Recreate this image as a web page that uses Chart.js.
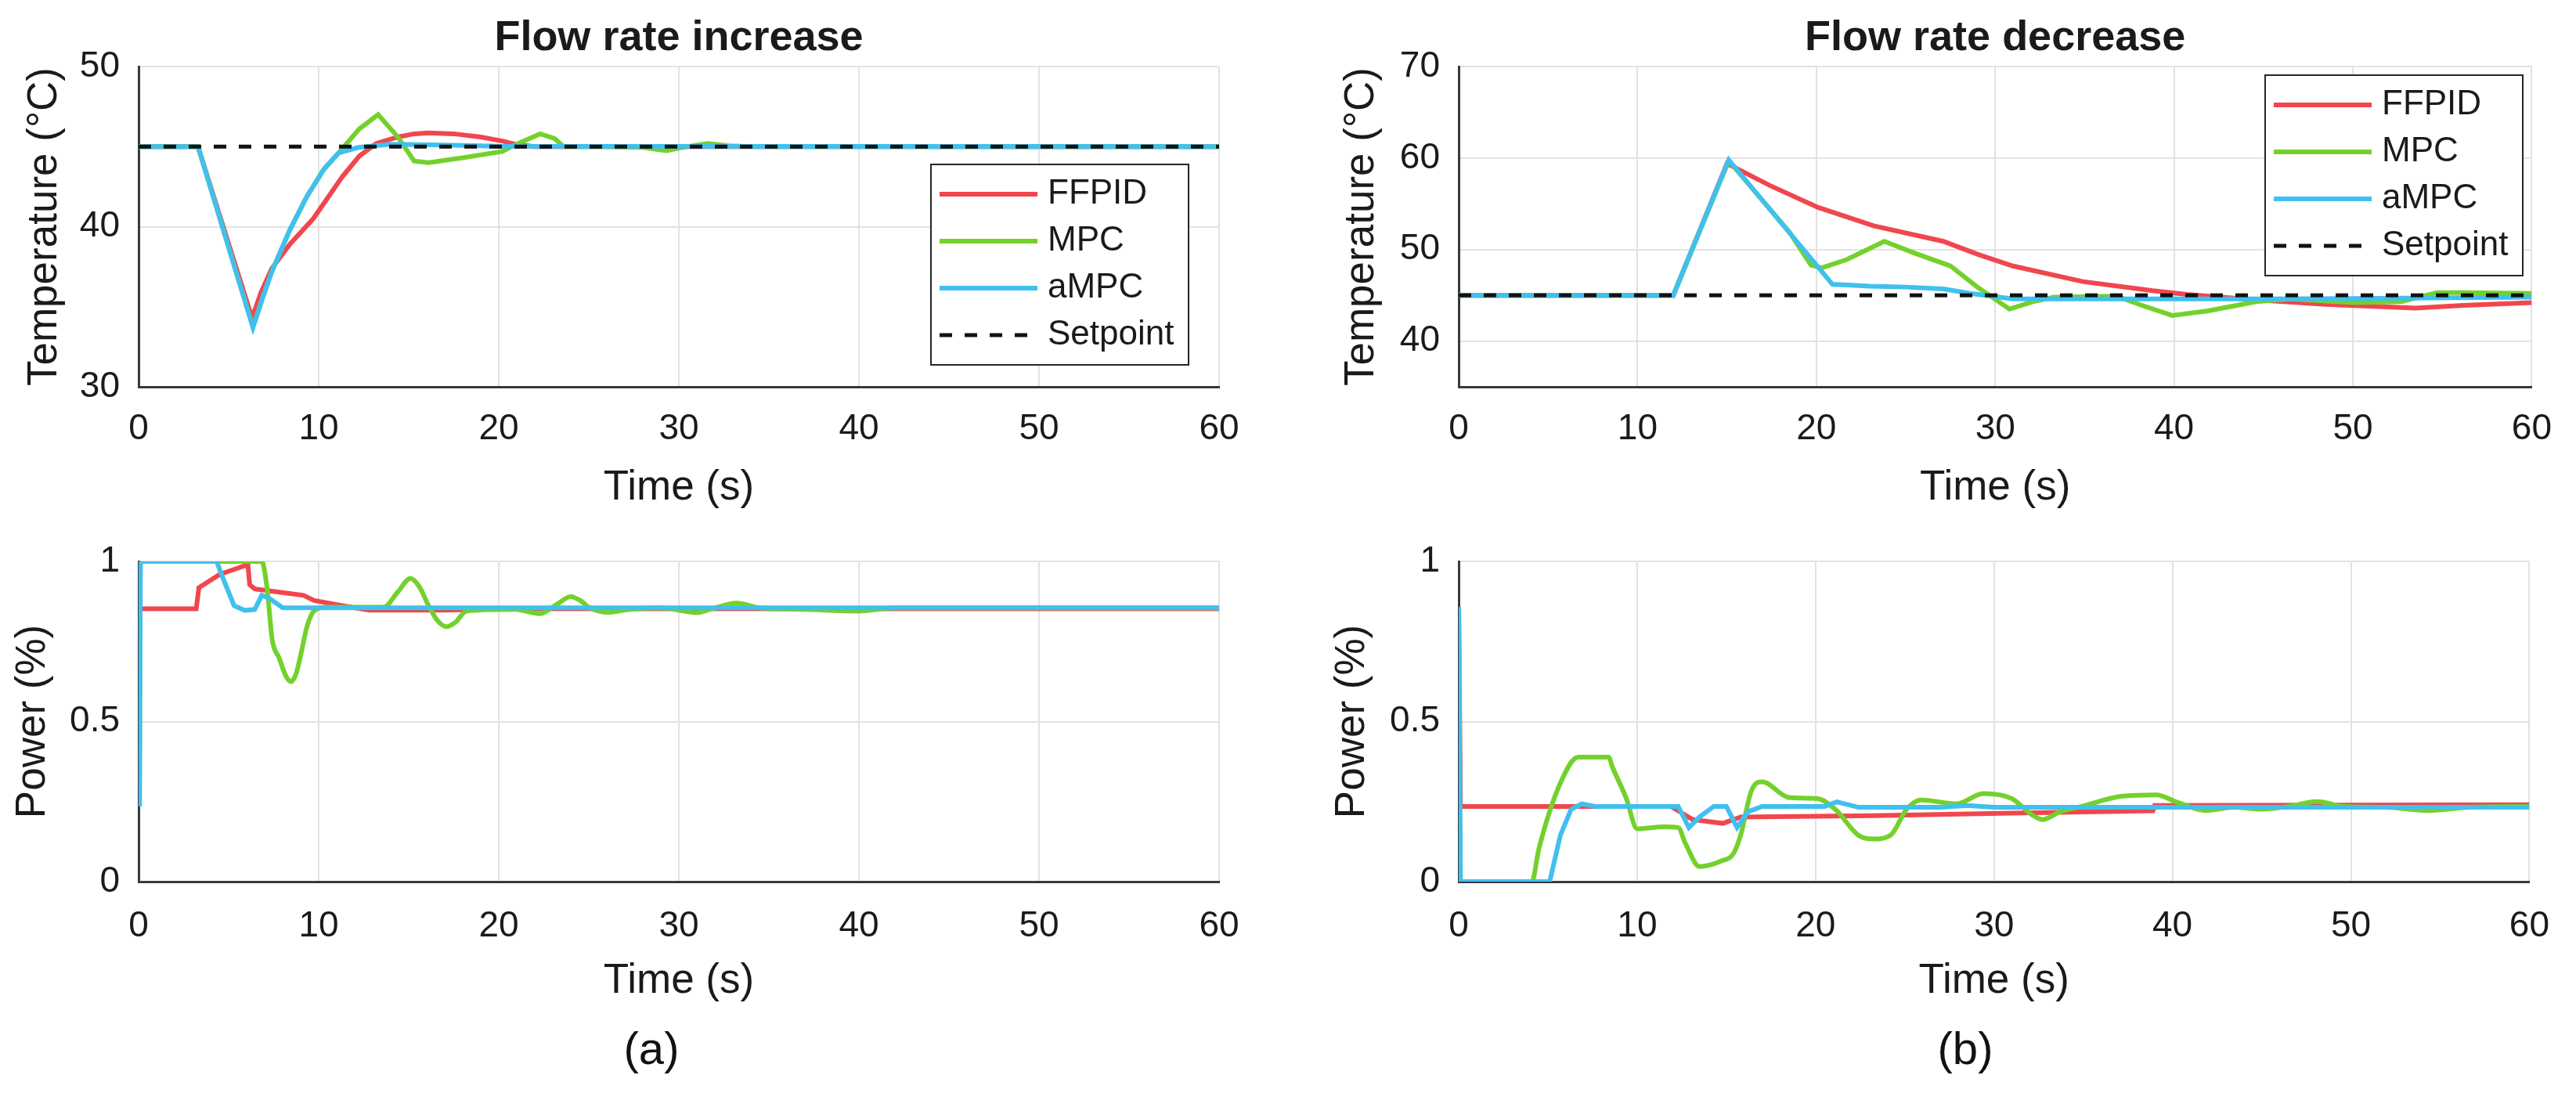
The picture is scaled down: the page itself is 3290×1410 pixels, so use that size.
<!DOCTYPE html>
<html>
<head>
<meta charset="utf-8">
<script src="https://cdn.jsdelivr.net/npm/chart.js@4.4.1/dist/chart.umd.min.js"></script>
<style>
  html, body { margin: 0; padding: 0; background: #fff; }
  #fig { position: relative; width: 3290px; height: 1410px; overflow: hidden; background: #fff; }
  #fig canvas { position: absolute; }
  .tag { position: absolute; font-family: 'Liberation Sans', Arial, sans-serif; font-size: 58px; color: #111; transform: translate(-50%, -50%); }
</style>
</head>
<body>
<div id="fig">
  <canvas id="incTemp" width="1645" height="660" style="left:0px;top:0px"></canvas>
  <canvas id="decTemp" width="1645" height="660" style="left:1645px;top:0px"></canvas>
  <canvas id="incPower" width="1645" height="640" style="left:0px;top:660px"></canvas>
  <canvas id="decPower" width="1645" height="640" style="left:1645px;top:660px"></canvas>
  <div class="tag" style="left:832px;top:1338px">(a)</div>
  <div class="tag" style="left:2510px;top:1338px">(b)</div>
</div>
<script>
// ---- data: [time (s), value] ----
const timeTicks = [0, 10, 20, 30, 40, 50, 60];
const timeRange = [0, 60];
const incTempTicks = [30, 40, 50];
const incTempRange = [30, 50];
const decTempTicks = [40, 50, 60, 70];
const decTempRange = [35, 70];
const powerTicks = [0, 0.5, 1];
const powerRange = [0, 1];
const setpointValue = 45;

// flow rate increase, temperature
const incTempFFPID = [[0,45],[3.3,45],[6.3,34.3],[6.8,35.9],[7.4,37.4],[8.4,38.9],[9.7,40.5],[10.5,41.8],[11.3,43.1],[12.25,44.4],[13.2,45.2],[14.4,45.6],[15.3,45.8],[16.1,45.85],[17.5,45.8],[19,45.6],[20.2,45.35],[20.9,45.15],[22,45.0],[60,45]];
const incTempMPC = [[0,45],[3.3,45],[6.35,33.75],[6.9,35.6],[7.4,37.2],[8.4,39.8],[9.35,41.9],[10.3,43.6],[11.1,44.6],[12.25,46.1],[13.3,47.0],[14.4,45.6],[15.3,44.1],[16.1,44.0],[18,44.3],[20.2,44.7],[20.7,45.0],[21.5,45.4],[22.3,45.8],[23.1,45.5],[23.6,45.0],[26,45.0],[28,44.95],[29.3,44.75],[30.2,44.95],[31.6,45.2],[32.8,45.05],[34,45.0],[60,45]];
const incTempAMPC = [[0,45],[3.3,45],[6.35,33.7],[6.9,35.6],[7.4,37.2],[8.4,39.8],[9.35,41.9],[10.3,43.6],[11.1,44.6],[12.2,44.95],[14,45.15],[17,45.1],[20,45.02],[60,45]];

// flow rate decrease, temperature
const decTempFFPID = [[0,45],[12,45],[15.0,59.4],[17.4,57.0],[20.1,54.6],[23.2,52.6],[27.1,50.9],[29,49.5],[31,48.2],[34.9,46.5],[38.8,45.5],[40.7,45.1],[44.6,44.5],[48.5,44.0],[53.5,43.6],[56.2,43.9],[60,44.2]];
const decTempMPC = [[0,45],[12,45],[15.1,59.7],[18.5,51.9],[19.7,48.3],[20.3,48.0],[21.7,48.9],[23.8,50.9],[25.5,49.6],[27.5,48.2],[29,45.9],[30.8,43.5],[32.1,44.3],[33.3,44.8],[36.8,44.9],[38.2,43.9],[39.9,42.8],[41.9,43.3],[44.6,44.3],[46.5,44.6],[50,44.2],[52.7,44.3],[54.7,45.3],[56.2,45.3],[60,45.2]];
const decTempAMPC = [[0,45],[12,45],[15.1,59.8],[20.9,46.2],[23,46.0],[25,45.9],[27.1,45.7],[28.6,45.2],[31,44.6],[35,44.6],[45,44.6],[50,44.65],[60,44.8]];

// flow rate increase, power
const incPowerFFPID = [[0,0.243],[0.05,0.852],[3.2,0.852],[3.35,0.918],[4.5,0.959],[5.3,0.975],[6.07,0.99],[6.17,0.927],[6.45,0.914],[7.8,0.904],[9.16,0.894],[9.74,0.878],[11.3,0.862],[12.8,0.848],[17.1,0.848],[20,0.852],[60,0.852]];
const incPowerMPC = [[0.05,0.24],[0.1,1.0],[6.84,1.0],[7.13,0.918],[7.42,0.756],[7.8,0.699],[8.2,0.64],[8.48,0.625],[8.75,0.65],[8.97,0.699],[9.35,0.796],[9.74,0.845],[10.5,0.857],[13.6,0.857],[14.4,0.905],[15.1,0.947],[15.6,0.92],[16.1,0.862],[16.6,0.815],[17.1,0.796],[17.6,0.81],[18.2,0.845],[20.9,0.85],[22.3,0.837],[23.2,0.865],[24,0.89],[24.6,0.875],[25,0.857],[26.1,0.841],[27.1,0.849],[29,0.855],[31,0.84],[32,0.855],[33.2,0.87],[34.5,0.855],[37,0.85],[40,0.845],[42,0.855],[60,0.855]];
const incPowerAMPC = [[0.05,0.235],[0.1,1.0],[4.33,1.0],[4.72,0.943],[5.3,0.862],[5.9,0.847],[6.45,0.85],[6.84,0.894],[7.23,0.886],[8.0,0.855],[60,0.855]];

// flow rate decrease, power
const decPowerFFPID = [[0,0.857],[0.1,0.235],[11.9,0.235],[13.1,0.194],[14.8,0.182],[15.8,0.202],[23.2,0.206],[31,0.214],[38.9,0.221],[39,0.238],[60,0.24]];
const decPowerMPC = [[0,0.857],[0.1,0],[4.1,0],[4.5,0.104],[5.7,0.308],[6.7,0.389],[8.4,0.389],[8.6,0.36],[9.4,0.259],[10.0,0.165],[11.5,0.171],[12.3,0.169],[12.7,0.12],[13.5,0.047],[14.7,0.064],[15.4,0.088],[15.8,0.145],[16.4,0.283],[17.0,0.312],[18.5,0.263],[20.1,0.259],[21.1,0.226],[22.4,0.145],[23.2,0.133],[24.2,0.145],[25.1,0.226],[25.9,0.255],[27.9,0.243],[29.4,0.275],[31,0.259],[32.1,0.21],[32.7,0.194],[33.7,0.218],[34.9,0.235],[37.2,0.267],[39.1,0.271],[40.3,0.247],[41.9,0.222],[43.4,0.232],[45,0.226],[46.5,0.235],[48.1,0.25],[49.6,0.235],[52,0.232],[54.3,0.222],[56.6,0.232],[60,0.235]];
const decPowerAMPC = [[0,0.857],[0.1,0],[5.1,0],[5.7,0.145],[6.3,0.226],[6.9,0.243],[7.65,0.235],[12.3,0.235],[12.9,0.169],[13.5,0.202],[14.3,0.235],[15.0,0.235],[15.6,0.169],[16.2,0.218],[17,0.235],[20.5,0.235],[21.2,0.249],[22.4,0.232],[27,0.232],[28.5,0.238],[30,0.232],[60,0.232]];

// ---- styling ----
const FONT = "'Liberation Sans', Arial, Helvetica, sans-serif";
const RED = '#F0464E', GREEN = '#74D12C', CYAN = '#40C0EE';
const TXT = '#1a1a1a', GRID = '#e2e2e2', AXIS = '#3a3a3a';

function pts(pairs) {
  return pairs.map(([x, y]) => ({ x, y }));
}

function lineSet(label, pairs, color, order, extra) {
  return Object.assign({
    label: label,
    data: pts(pairs),
    borderColor: color,
    backgroundColor: color,
    borderWidth: 6,
    pointRadius: 0,
    tension: 0,
    fill: false,
    order: order
  }, extra || {});
}

function setpointSet() {
  return lineSet('Setpoint', [[timeRange[0], setpointValue], [timeRange[1], setpointValue]], '#111', 0,
    { borderWidth: 5, borderDash: [16, 16] });
}

// matlab style legend box drawn inside the axes
const boxLegend = {
  id: 'boxLegend',
  afterDraw(chart, args, o) {
    if (!o || !o.show) return;
    const ctx = chart.ctx;
    ctx.save();
    ctx.fillStyle = '#fff';
    ctx.fillRect(o.x, o.y, o.w, o.h);
    ctx.strokeStyle = '#262626';
    ctx.lineWidth = 2;
    ctx.strokeRect(o.x, o.y, o.w, o.h);
    ctx.font = '44px ' + FONT;
    ctx.textBaseline = 'middle';
    chart.data.datasets.forEach((ds, i) => {
      const y = o.y + 38 + i * 60;
      ctx.beginPath();
      ctx.strokeStyle = ds.borderColor;
      ctx.lineWidth = ds.borderWidth;
      ctx.setLineDash(ds.borderDash || []);
      ctx.moveTo(o.x + 11, y);
      ctx.lineTo(o.x + 136, y);
      ctx.stroke();
      ctx.setLineDash([]);
      ctx.fillStyle = TXT;
      ctx.fillText(ds.label, o.x + 149, y);
    });
    ctx.restore();
  }
};

function makeChart(id, o) {
  return new Chart(document.getElementById(id), {
    type: 'line',
    data: { datasets: o.datasets },
    plugins: [boxLegend],
    options: {
      responsive: false,
      animation: false,
      devicePixelRatio: 1,
      layout: { padding: { left: 0, right: o.padRight, top: o.padTop, bottom: 0 } },
      plugins: {
        legend: { display: false },
        tooltip: { enabled: false },
        title: {
          display: !!o.title,
          text: o.title,
          fullSize: false,
          color: TXT,
          font: { family: FONT, size: 54, weight: 'bold', lineHeight: 1 },
          padding: { top: 22, bottom: 9 }
        },
        boxLegend: o.legend || { show: false }
      },
      scales: {
        x: {
          type: 'linear',
          min: timeRange[0],
          max: timeRange[1],
          afterBuildTicks: s => { s.ticks = timeTicks.map(v => ({ value: v })); },
          afterFit: s => { s.height = o.xHeight; },
          grid: { color: GRID, lineWidth: 2, drawTicks: false },
          border: { color: AXIS, width: 3 },
          ticks: { padding: o.xTickPad, color: TXT, maxRotation: 0, font: { family: FONT, size: 46, lineHeight: 1 }, callback: v => String(v) },
          title: {
            display: true, text: 'Time (s)', color: TXT,
            font: { family: FONT, size: 53, lineHeight: 1 },
            padding: { top: 0, bottom: o.xTitlePad }
          }
        },
        y: {
          type: 'linear',
          min: o.yRange[0],
          max: o.yRange[1],
          afterBuildTicks: s => { s.ticks = o.yTicks.map(v => ({ value: v })); },
          afterFit: s => { s.width = o.yWidth; },
          grid: { color: GRID, lineWidth: 2, drawTicks: false },
          border: { color: AXIS, width: 3 },
          ticks: { padding: 24, color: TXT, font: { family: FONT, size: 46, lineHeight: 1 }, callback: v => String(v) },
          title: {
            display: true, text: o.yLabel, color: TXT,
            font: { family: FONT, size: 53, lineHeight: 1 },
            padding: { top: o.yTitlePad, bottom: 0 }
          }
        }
      }
    }
  });
}

makeChart('incTemp', {
  title: 'Flow rate increase',
  yLabel: 'Temperature (°C)',
  yRange: incTempRange, yTicks: incTempTicks,
  padRight: 88, padTop: 0,
  yWidth: 177, yTitlePad: 31,
  xHeight: 166, xTickPad: 31, xTitlePad: 10,
  legend: { show: true, x: 1189, y: 210, w: 329, h: 256 },
  datasets: [
    lineSet('FFPID', incTempFFPID, RED, 3),
    lineSet('MPC', incTempMPC, GREEN, 2),
    lineSet('aMPC', incTempAMPC, CYAN, 1),
    setpointSet()
  ]
});

makeChart('decTemp', {
  title: 'Flow rate decrease',
  yLabel: 'Temperature (°C)',
  yRange: decTempRange, yTicks: decTempTicks,
  padRight: 48, padTop: 0,
  yWidth: 218, yTitlePad: 68,
  xHeight: 166, xTickPad: 31, xTitlePad: 10,
  legend: { show: true, x: 1248, y: 96, w: 329, h: 256 },
  datasets: [
    lineSet('FFPID', decTempFFPID, RED, 3),
    lineSet('MPC', decTempMPC, GREEN, 2),
    lineSet('aMPC', decTempAMPC, CYAN, 1),
    setpointSet()
  ]
});

makeChart('incPower', {
  yLabel: 'Power (%)',
  yRange: powerRange, yTicks: powerTicks,
  padRight: 88, padTop: 57,
  yWidth: 177, yTitlePad: 16,
  xHeight: 174, xTickPad: 34, xTitlePad: 20,
  datasets: [
    lineSet('FFPID', incPowerFFPID, RED, 3),
    lineSet('MPC', incPowerMPC, GREEN, 2, { cubicInterpolationMode: 'monotone' }),
    lineSet('aMPC', incPowerAMPC, CYAN, 1)
  ]
});

makeChart('decPower', {
  yLabel: 'Power (%)',
  yRange: powerRange, yTicks: powerTicks,
  padRight: 48, padTop: 57,
  yWidth: 218, yTitlePad: 56,
  xHeight: 174, xTickPad: 34, xTitlePad: 20,
  datasets: [
    lineSet('FFPID', decPowerFFPID, RED, 3),
    lineSet('MPC', decPowerMPC, GREEN, 2, { cubicInterpolationMode: 'monotone' }),
    lineSet('aMPC', decPowerAMPC, CYAN, 1)
  ]
});
</script>
</body>
</html>
